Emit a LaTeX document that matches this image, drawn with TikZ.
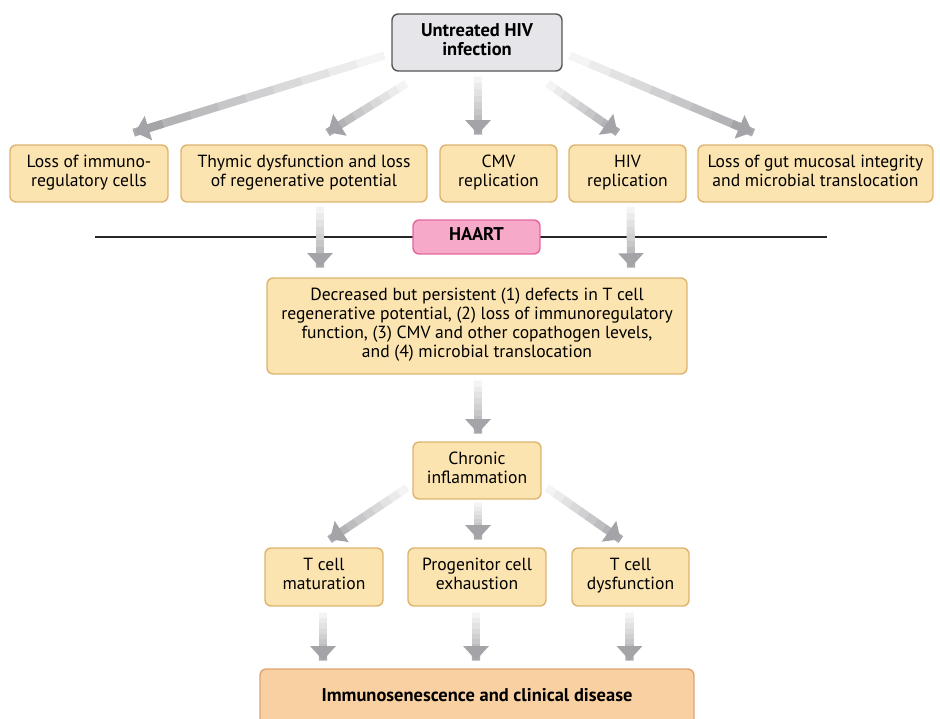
\documentclass[tikz,border=0pt]{standalone}
\usepackage{fontspec}
\setmainfont{PT Sans}
\usetikzlibrary{arrows.meta,calc}
\definecolor{boxfill}{HTML}{FCE4B0}
\definecolor{boxline}{HTML}{DDB36E}
\definecolor{topfill}{HTML}{E6E6EA}
\definecolor{topline}{HTML}{555555}
\definecolor{pinkfill}{HTML}{F6A9C9}
\definecolor{pinkline}{HTML}{E2679E}
\definecolor{endfill}{HTML}{F9D0A2}
\definecolor{endline}{HTML}{E0A272}
\definecolor{arrgray}{HTML}{A4A4A8}
\tikzset{
  box/.style={draw=boxline, fill=boxfill, rounded corners=3.5pt, line width=0.8pt,
    align=center, inner sep=2pt, minimum height=1.14cm,
    font=\fontsize{10pt}{10.8pt}\selectfont, execute at end node=\strut},
  boldbox/.style={box, font=\fontsize{10.5pt}{11pt}\selectfont\bfseries},
  shaft/.style={line width=4.6pt},
  arr/.style={draw=arrgray, line width=4.6pt, -{Triangle[width=14pt,length=8pt]}}
}
% a thick arrow that fades out towards its start
\newcommand{\fadearr}[2]{%
  \foreach \t [evaluate=\t as \c using int(12+\t*10),
               evaluate=\t as \pa using \t/9,
               evaluate=\t as \pb using (\t+1.05)/9] in {0,...,8}{
    \draw[shaft, draw=arrgray!\c!white] ($(#1)!\pa!(#2)$) -- ($(#1)!\pb!(#2)$);
  }
  \draw[arr] ($(#1)!0.889!(#2)$) -- (#2);
}
\begin{document}
\begin{tikzpicture}[x=0.02cm, y=-0.02cm]
          \useasboundingbox (0,0) rectangle (940,719);
          % boxes from top to bottom
          \node[boldbox, draw=topline, fill=topfill, minimum width=3.4cm] (top) at (477,42.5) {Untreated HIV\\infection};
          \node[box, minimum width=3.16cm] (loss) at (89,173.5) {Loss of immuno-\\regulatory cells};
          \node[box, minimum width=4.92cm] (thymic) at (304,173.5) {Thymic dysfunction and loss\\of regenerative potential};
          \node[box, minimum width=2.34cm] (cmv) at (498.5,173.5) {CMV\\replication};
          \node[box, minimum width=2.34cm] (hiv) at (627.5,173.5) {HIV\\replication};
          \node[box, minimum width=4.7cm] (gut) at (815.5,173.5) {Loss of gut mucosal integrity\\and microbial translocation};

          % the HAART line
          \coordinate (hl) at (95,237);
          \coordinate (hr) at (827,237);
          \draw[line width=1.2pt, color=black!85] (hl) -- (hr);
          \node[boldbox, draw=pinkline, fill=pinkfill, minimum width=2.54cm, minimum height=0.68cm] (haart) at (476.5,237) {HAART};

          \node[box, minimum width=8.4cm, minimum height=1.92cm] (defects) at (477,326) {Decreased but persistent (1) defects in T cell\\regenerative potential, (2) loss of immunoregulatory\\function, (3) CMV and other copathogen levels,\\and (4) microbial translocation};
          \node[box, minimum width=2.56cm] (chronic) at (477,470.5) {Chronic\\inflammation};
          \node[box, minimum width=2.36cm, minimum height=1.16cm] (mat) at (324,577) {T cell\\maturation};
          \node[box, minimum width=2.76cm, minimum height=1.16cm] (prog) at (477,577) {Progenitor cell\\exhaustion};
          \node[box, minimum width=2.34cm, minimum height=1.16cm] (dys) at (630.5,577) {T cell\\dysfunction};
          \node[boldbox, draw=endline, fill=endfill, minimum width=8.68cm, minimum height=1.16cm] (immuno) at (477,698) {Immunosenescence and clinical disease};

          % end points of the arrows
          \path ($(top.west)+(-7,13)$) coordinate (s1) ($(loss.north)+(46,-12)$) coordinate (e1)
                ($(top.south west)+(15,12)$) coordinate (s2) ($(thymic.north)+(24,-12)$) coordinate (e2)
                ($(top.south)+(1,5)$) coordinate (s3) ($(top.south |- cmv.north)+(1,-10)$) coordinate (e3)
                ($(top.south east)+(-15,12)$) coordinate (s4) ($(hiv.north)+(-10,-12)$) coordinate (e4)
                ($(top.east)+(7,13)$) coordinate (s5) ($(gut.north)+(-63,-12)$) coordinate (e5)
                ($(thymic.south)+(16,4)$) coordinate (s6) ($(defects.north)+(-157,-10)$) coordinate (e6)
                ($(hiv.south)+(3,4)$) coordinate (s7) ($(defects.north)+(154,-10)$) coordinate (e7)
                ($(defects.south)+(1,6)$) coordinate (s8) ($(chronic.north)+(1,-8)$) coordinate (e8)
                ($(chronic.south west)+(-5,-12)$) coordinate (s9) ($(mat.north)+(6,-8)$) coordinate (e9)
                ($(chronic.south)+(1,3)$) coordinate (s10) ($(prog.north)+(1,-8)$) coordinate (e10)
                ($(chronic.south east)+(5,-12)$) coordinate (s11) ($(dys.north)+(-10,-8)$) coordinate (e11);
          \foreach \n in {1,...,11}{
            \fadearr{s\n}{e\n}
          }
          \foreach \n in {mat, prog, dys}{
            \path ($(\n.south)+(-1,6)$) coordinate (a) ($(\n.south |- immuno.north)+(-1,-8)$) coordinate (b);
            \fadearr{a}{b}
          }

        \end{tikzpicture}
\end{document}
